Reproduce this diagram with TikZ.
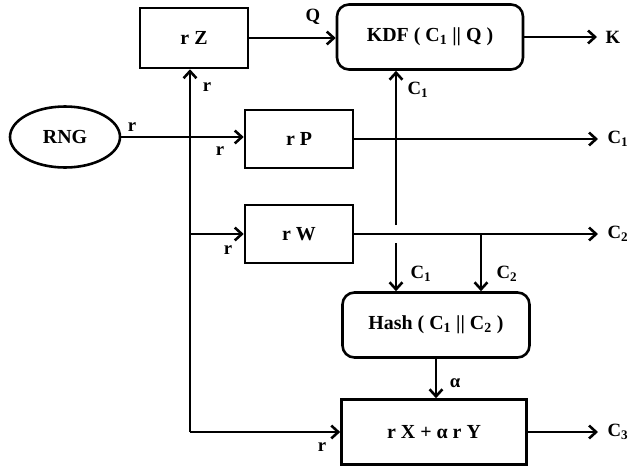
\documentclass[tikz,border=0pt]{standalone}
\usepackage{fontspec}
\setmainfont{Liberation Serif}
\usetikzlibrary{shapes.geometric, arrows.meta, calc}

\tikzset{
  blk/.style={draw, rectangle, font=\bfseries\fontsize{17}{19}\selectfont},
  rblk/.style={blk, rounded corners=0.36cm},
  lbl/.style={font=\bfseries\fontsize{16}{18}\selectfont, inner sep=1pt},
}

\begin{document}
\begin{tikzpicture}[x=0.03cm, y=-0.03cm, line width=2.2pt,
  >={Straight Barb[length=6pt,width=11pt]}]
  \useasboundingbox (0,0) rectangle (632,468);

  % blocks
  \node[blk, minimum width=3.24cm, minimum height=1.8cm] (rz) at (194,38) {r Z};
  \node[rblk, minimum width=5.58cm, minimum height=1.95cm] (kdf) at (430,37) {KDF ( C\textsubscript{1} || Q )};
  \node[draw, ellipse, minimum width=3.3cm, minimum height=1.83cm, font=\bfseries\fontsize{17}{19}\selectfont] (rng) at (65,137) {RNG};
  \node[blk, minimum width=3.24cm, minimum height=1.74cm] (rp) at (299,139) {r P};
  \node[blk, minimum width=3.24cm, minimum height=1.74cm] (rw) at (299,234) {r W};
  \node[rblk, minimum width=5.61cm, minimum height=1.95cm] (hash) at (436,325) {Hash ( C\textsubscript{1} || C\textsubscript{2} )};
  \node[blk, minimum width=5.55cm, minimum height=1.95cm] (rxy) at (434,432) {r X + α r Y};

  % points
  \coordinate (bend) at (190,432);
  \coordinate (kout) at (597,37);
  \coordinate (c1out) at (598,139);
  \coordinate (c2out) at (598,234);
  \coordinate (c3out) at (598,432);
  \coordinate (c1up) at (396,225);
  \coordinate (c1dn) at (396,243);
  \coordinate (c2br) at (481,234);

  % connectors
  \draw[->] (rz.east) -- (rz.east -| kdf.west);
  \draw[->] (kdf.east) -- (kout);
  \draw[->] (rng.east) -- (rng.east -| rp.west);
  \draw[->] (bend) -- (bend |- rz.south);
  \draw[->] (bend |- rw.west) -- (rw.west);
  \draw[->] (bend) -- (rxy.west);
  \draw[->] (rp.east) -- (c1out);
  \draw[->] (rw.east) -- (c2out);
  \draw[->] (c1up) -- (c1up |- kdf.south);
  \draw[->] (c1dn) -- (c1dn |- hash.north);
  \draw[->] (c2br) -- (c2br |- hash.north);
  \draw[->] (hash.south) -- (hash.south |- rxy.north);
  \draw[->] (rxy.east) -- (c3out);

  % labels
  \node[lbl] (lq) at (313,17) {Q};
  \node[lbl] (lk) at (613,37) {K};
  \node[lbl] (lr1) at (207,87) {r};
  \node[lbl] (lr2) at (132,127) {r};
  \node[lbl] (lr3) at (220,151) {r};
  \node[lbl] (lr4) at (228,250) {r};
  \node[lbl] (lr5) at (322,447) {r};
  \node[lbl] (lc1a) at (418,90) {C\textsubscript{1}};
  \node[lbl] (lc1b) at (618,139) {C\textsubscript{1}};
  \node[lbl] (lc2a) at (618,234) {C\textsubscript{2}};
  \node[lbl] (lc1c) at (421,274) {C\textsubscript{1}};
  \node[lbl] (lc2b) at (507,274) {C\textsubscript{2}};
  \node[lbl] (la) at (455,383) {α};
  \node[lbl] (lc3) at (618,432) {C\textsubscript{3}};
\end{tikzpicture}
\end{document}
